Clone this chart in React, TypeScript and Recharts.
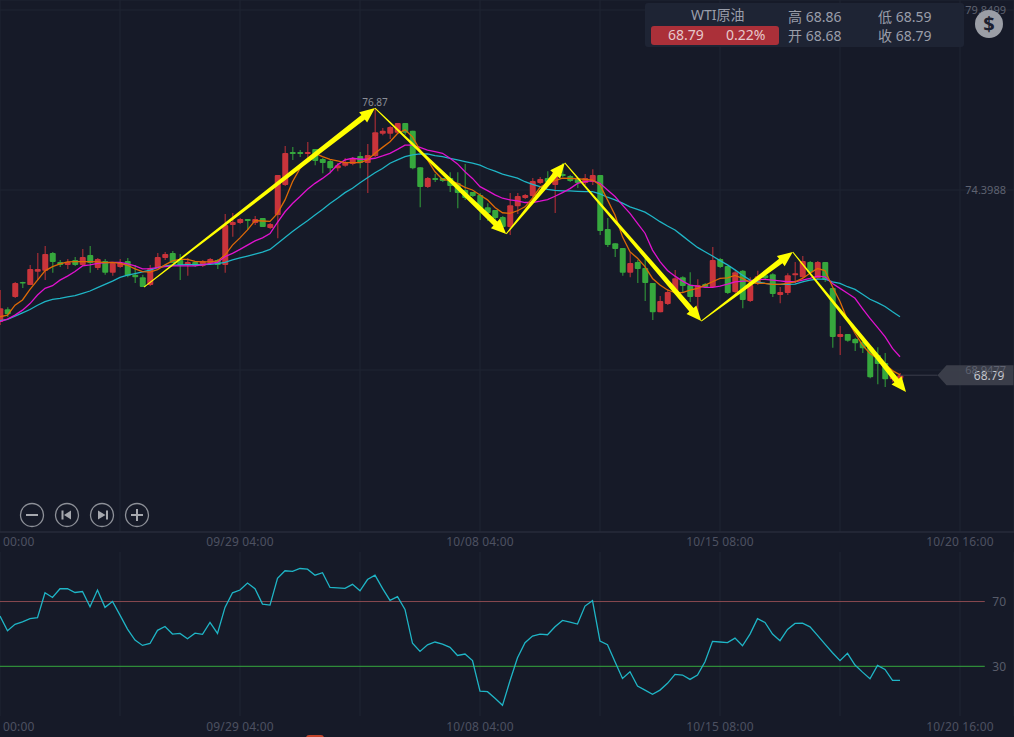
import {
  ComposedChart,
  LineChart,
  Bar,
  Line,
  XAxis,
  YAxis,
  CartesianGrid,
  ReferenceLine,
  ReferenceDot,
} from "recharts";

document.body.style.margin = "0";
document.body.style.background = "#161a28";

const opens = [
  70.40, 70.79, 71.16, 71.61, 71.52, 71.92, 71.95, 72.49, 72.22, 72.13,
  72.28, 72.13, 72.43, 72.04, 72.25, 71.89, 72.07, 72.25, 71.83, 71.76,
  71.52, 72.04, 72.34, 72.49, 72.28, 72.13, 72.22, 72.10, 72.19, 72.28,
  72.13, 73.34, 73.40, 73.52, 73.40, 73.55, 73.25, 73.64, 74.55, 75.55,
  75.55, 75.49, 75.64, 75.34, 75.28, 75.06, 75.13, 75.19, 75.43, 75.22,
  75.43, 76.10, 76.10, 76.13, 76.43, 76.19, 75.09, 74.49, 74.76, 74.76,
  74.76, 74.61, 74.40, 74.34, 74.25, 73.88, 73.79, 73.58, 73.28, 73.91,
  74.16, 74.22, 74.61, 74.76, 74.55, 74.88, 74.82, 74.73, 74.61, 74.64,
  74.85, 73.22, 72.79, 72.64, 71.89, 72.22, 72.04, 71.58, 70.70, 70.95,
  71.31, 71.76, 71.52, 71.16, 71.55, 71.46, 72.31, 72.10, 71.31, 71.95,
  71.04, 71.55, 71.82, 71.85, 71.22, 71.28, 71.82, 71.76, 72.22, 71.73,
  72.22, 71.43, 69.95, 70.04, 69.89, 69.80, 69.64, 69.40, 69.16, 68.67,
  68.68,
];
const highs = [
  71.37, 70.85, 71.61, 71.62, 72.13, 72.49, 72.70, 72.52, 72.28, 72.31,
  72.37, 72.61, 72.70, 72.34, 72.31, 72.22, 72.31, 72.34, 72.13, 71.83,
  72.13, 72.49, 72.52, 72.55, 72.46, 72.34, 72.25, 72.28, 72.34, 72.31,
  73.67, 73.70, 73.55, 73.52, 73.61, 73.55, 73.40, 74.85, 75.73, 75.70,
  75.61, 75.85, 75.64, 75.37, 75.31, 75.22, 75.37, 75.40, 75.55, 75.79,
  76.87, 76.28, 76.34, 76.43, 76.43, 76.19, 75.09, 74.79, 74.88, 74.76,
  74.94, 74.94, 75.19, 74.34, 74.31, 74.00, 73.79, 73.61, 74.31, 74.31,
  74.28, 74.76, 74.79, 74.97, 75.00, 75.22, 74.85, 74.76, 74.88, 75.03,
  74.85, 73.55, 72.79, 72.64, 72.52, 72.28, 72.34, 71.58, 71.19, 71.40,
  71.98, 71.79, 71.91, 71.70, 71.58, 72.67, 72.34, 72.10, 71.95, 71.98,
  71.76, 71.95, 71.85, 71.88, 71.46, 71.88, 72.22, 72.40, 72.25, 72.25,
  72.22, 71.43, 70.28, 70.04, 69.92, 69.80, 69.64, 69.64, 69.46, 68.85,
  68.86,
];
const lows = [
  70.31, 70.55, 71.13, 71.43, 71.52, 71.67, 71.67, 71.89, 72.07, 72.01,
  72.10, 72.10, 71.89, 71.98, 71.83, 71.80, 72.04, 71.76, 71.58, 71.46,
  71.49, 72.04, 72.28, 72.19, 71.67, 71.80, 72.07, 72.07, 72.13, 72.01,
  71.89, 72.98, 73.37, 73.19, 73.34, 73.28, 73.22, 72.94, 74.52, 75.31,
  75.40, 75.25, 75.15, 74.91, 74.91, 74.97, 75.10, 75.15, 75.06, 74.31,
  75.40, 76.06, 75.94, 76.13, 76.07, 75.03, 73.88, 74.46, 74.64, 74.64,
  74.34, 73.85, 74.10, 74.19, 73.49, 73.46, 73.49, 73.25, 73.04, 73.67,
  74.13, 74.19, 74.58, 74.61, 73.70, 74.79, 74.64, 74.46, 74.55, 74.55,
  73.04, 72.67, 72.37, 71.80, 71.76, 71.58, 71.04, 70.46, 70.70, 70.92,
  71.28, 71.31, 71.01, 70.67, 71.43, 71.43, 72.04, 71.25, 71.28, 70.82,
  71.01, 71.52, 71.67, 71.16, 70.97, 71.22, 71.58, 71.73, 71.88, 71.70,
  71.61, 69.62, 69.40, 69.80, 69.52, 69.46, 68.70, 68.52, 68.43, 68.58,
  68.59,
];
const closes = [
  70.82, 70.64, 71.58, 71.57, 72.01, 72.01, 72.46, 72.22, 72.13, 72.22,
  72.13, 72.37, 72.19, 72.31, 71.89, 72.19, 72.19, 71.80, 71.76, 71.46,
  72.04, 72.37, 72.46, 72.19, 72.13, 72.22, 72.10, 72.25, 72.31, 72.13,
  73.34, 73.43, 73.52, 73.46, 73.52, 73.28, 73.37, 74.85, 75.52, 75.49,
  75.49, 75.55, 75.28, 75.22, 75.06, 75.15, 75.25, 75.37, 75.22, 75.46,
  76.15, 76.19, 76.31, 76.43, 76.13, 75.06, 74.49, 74.76, 74.70, 74.67,
  74.52, 74.31, 74.16, 74.22, 73.79, 73.70, 73.55, 73.28, 73.94, 74.22,
  74.25, 74.67, 74.73, 74.64, 74.94, 74.82, 74.67, 74.61, 74.76, 74.85,
  73.16, 72.73, 72.61, 71.89, 72.19, 72.01, 71.58, 70.70, 71.04, 71.31,
  71.73, 71.49, 71.16, 71.52, 71.46, 72.28, 72.07, 71.28, 71.91, 71.07,
  71.52, 71.79, 71.73, 71.25, 71.31, 71.82, 71.88, 72.25, 71.91, 72.22,
  71.67, 69.95, 70.04, 69.83, 69.76, 69.61, 68.73, 69.13, 68.67, 68.79,
  68.79,
];
const ma5 = [
  70.56, 70.61, 70.91, 71.07, 71.39, 71.67, 71.95, 72.08, 72.16, 72.22,
  72.23, 72.23, 72.23, 72.22, 72.20, 72.21, 72.18, 72.12, 72.01, 71.93,
  71.91, 71.99, 72.13, 72.25, 72.30, 72.30, 72.24, 72.22, 72.22, 72.25,
  72.43, 72.73, 72.95, 73.19, 73.47, 73.46, 73.45, 73.69, 74.10, 74.65,
  75.05, 75.29, 75.51, 75.41, 75.33, 75.28, 75.23, 75.23, 75.23, 75.31,
  75.51, 75.69, 75.86, 76.11, 76.22, 76.01, 75.61, 75.31, 74.95, 74.72,
  74.68, 74.60, 74.48, 74.40, 74.25, 74.10, 73.87, 73.71, 73.69, 73.77,
  73.89, 74.15, 74.48, 74.60, 74.68, 74.76, 74.75, 74.74, 74.72, 74.70,
  74.55, 74.10, 73.64, 72.98, 72.53, 72.33, 72.08, 71.72, 71.52, 71.37,
  71.29, 71.29, 71.37, 71.42, 71.52, 71.62, 71.72, 71.74, 71.81, 71.72,
  71.60, 71.57, 71.57, 71.54, 71.54, 71.57, 71.62, 71.72, 71.88, 72.02,
  71.96, 71.47, 71.02, 70.46, 70.06, 69.70, 69.45, 69.30, 69.12, 68.93,
  68.80,
];
const ma10 = [
  70.41, 70.49, 70.61, 70.76, 70.96, 71.22, 71.42, 71.50, 71.67, 71.79,
  71.93, 72.10, 72.13, 72.18, 72.20, 72.21, 72.21, 72.16, 72.10, 72.01,
  72.02, 72.05, 72.08, 72.10, 72.10, 72.10, 72.10, 72.13, 72.18, 72.21,
  72.38, 72.48, 72.60, 72.73, 72.86, 72.95, 73.08, 73.42, 73.74, 73.99,
  74.20, 74.42, 74.60, 74.75, 74.92, 75.16, 75.31, 75.36, 75.33, 75.33,
  75.36, 75.43, 75.51, 75.63, 75.76, 75.76, 75.69, 75.61, 75.56, 75.51,
  75.36, 75.19, 74.95, 74.75, 74.50, 74.38, 74.25, 74.15, 74.10, 74.07,
  74.02, 74.02, 74.06, 74.11, 74.21, 74.32, 74.44, 74.60, 74.65, 74.68,
  74.60, 74.40, 74.20, 73.94, 73.69, 73.39, 73.09, 72.58, 72.23, 71.96,
  71.79, 71.64, 71.52, 71.49, 71.45, 71.45, 71.49, 71.55, 71.62, 71.64,
  71.65, 71.69, 71.69, 71.67, 71.65, 71.62, 71.62, 71.67, 71.72, 71.79,
  71.77, 71.57, 71.42, 71.27, 71.12, 70.81, 70.51, 70.24, 69.96, 69.60,
  69.35,
];
const ma20 = [
  70.44, 70.48, 70.58, 70.68, 70.78, 70.91, 71.02, 71.09, 71.12, 71.16,
  71.20, 71.27, 71.34, 71.44, 71.54, 71.64, 71.75, 71.82, 71.87, 71.92,
  71.97, 72.05, 72.10, 72.12, 72.13, 72.14, 72.14, 72.14, 72.15, 72.17,
  72.21, 72.28, 72.34, 72.40, 72.46, 72.52, 72.60, 72.78, 72.96, 73.14,
  73.31, 73.47, 73.64, 73.81, 73.99, 74.15, 74.32, 74.45, 74.62, 74.77,
  74.92, 75.05, 75.21, 75.31, 75.41, 75.46, 75.49, 75.49, 75.44, 75.41,
  75.36, 75.31, 75.26, 75.21, 75.15, 75.05, 74.97, 74.88, 74.82, 74.76,
  74.65, 74.57, 74.50, 74.42, 74.39, 74.37, 74.37, 74.36, 74.35, 74.35,
  74.28, 74.18, 74.10, 74.00, 73.89, 73.81, 73.73, 73.59, 73.44, 73.31,
  73.19, 73.01, 72.83, 72.66, 72.53, 72.40, 72.26, 72.13, 71.98, 71.82,
  71.67, 71.62, 71.57, 71.54, 71.54, 71.54, 71.55, 71.62, 71.67, 71.70,
  71.70, 71.62, 71.57, 71.47, 71.39, 71.24, 71.09, 70.99, 70.87, 70.71,
  70.56,
];
const rsi = [
  61.0, 52.0, 55.9, 57.5, 59.4, 60.0, 75.4, 72.5, 77.9, 77.9,
  75.6, 76.2, 66.8, 77.1, 66.4, 70.1, 61.6, 53.0, 46.2, 42.9,
  44.1, 52.2, 54.6, 49.9, 50.3, 47.0, 50.5, 49.7, 57.1, 50.3,
  66.4, 75.4, 77.1, 81.4, 77.9, 68.4, 67.8, 84.3, 89.0, 88.6,
  90.4, 90.0, 86.3, 87.8, 78.7, 78.5, 78.1, 80.6, 76.6, 83.6,
  86.3, 78.1, 70.7, 73.0, 65.1, 44.2, 39.2, 43.3, 45.0, 43.7,
  41.7, 36.7, 37.6, 33.5, 14.7, 14.3, 10.2, 5.9, 21.1, 35.3,
  44.6, 48.7, 49.9, 49.5, 54.4, 58.3, 57.3, 56.1, 67.2, 70.5,
  45.6, 43.3, 32.8, 22.5, 26.6, 17.8, 15.3, 12.7, 15.3, 19.5,
  25.0, 24.6, 21.9, 24.6, 32.8, 45.4, 45.0, 44.6, 47.4, 42.7,
  49.9, 59.4, 57.1, 49.9, 45.8, 52.8, 56.5, 56.7, 54.4, 49.1,
  43.7, 38.4, 33.5, 38.0, 30.8, 26.4, 22.3, 30.6, 28.1, 21.3,
  21.3,
];

const gridTicks = [0, 16, 32, 48, 64, 80, 96, 112, 128];
const labelTicks = [0, 32, 64, 96, 128];
const tickLabels = ["00:00", "09/29 04:00", "10/08 04:00", "10/15 08:00", "10/20 16:00"];
const priceTicks = [68.9477, 74.3988, 79.8499];
const rsiTicks = [30, 70];

// hand drawn zigzag on top of the candles
const arrowIndex = [19.2, 50, 67.5, 75.3, 93.5, 105.7, 120.8];
const arrowPrice = [71.46, 76.88, 73.07, 75.22, 70.43, 72.52, 68.28];

const FONT = '"Noto Sans", "Noto Sans CJK SC", sans-serif';
const BG = "#161a28";
const GRID = "#1f2433";
const RED = "#c9343b";
const GREEN = "#36a83d";
const LAST = closes[closes.length - 1];
const X_DOMAIN: [number, number] = [0, 135.2];

const candles = opens.map((open, i) => ({
  i,
  open,
  high: highs[i],
  low: lows[i],
  close: closes[i],
  range: [lows[i], highs[i]],
  ma5: ma5[i],
  ma10: ma10[i],
  ma20: ma20[i],
}));
const rsiData = rsi.map((value, i) => ({ i, value }));

function Candle(props: any) {
  const { x, y, width, height, payload } = props;
  const h = Math.abs(height);
  const toY = (v: number) => y + ((payload.high - v) / (payload.high - payload.low || 1)) * h;
  const up = payload.close >= payload.open;
  const color = up ? RED : GREEN;
  const top = toY(Math.max(payload.open, payload.close));
  const bottom = toY(Math.min(payload.open, payload.close));
  const cx = x + width / 2;
  return (
    <g>
      <line x1={cx} x2={cx} y1={y} y2={y + h} stroke={up ? "#8e2a33" : "#2b7c35"} strokeWidth={1.4} />
      <rect x={x} y={top} width={width} height={Math.max(bottom - top, 1.5)} rx={1} fill={color} />
    </g>
  );
}

// tapered arrow, thin at the start and thick at the head
function Arrow(props: any) {
  const { x1, y1, x2, y2 } = props;
  const len = Math.hypot(x2 - x1, y2 - y1);
  const ux = (x2 - x1) / len;
  const uy = (y2 - y1) / len;
  const nx = -uy;
  const ny = ux;
  const neckX = x2 - ux * 15;
  const neckY = y2 - uy * 15;
  const pts = [
    [x1 + nx * 0.5, y1 + ny * 0.5],
    [neckX + nx * 2.8, neckY + ny * 2.8],
    [neckX + nx * 6.5, neckY + ny * 6.5],
    [x2, y2],
    [neckX - nx * 6.5, neckY - ny * 6.5],
    [neckX - nx * 2.8, neckY - ny * 2.8],
    [x1 - nx * 0.5, y1 - ny * 0.5],
  ];
  return <polygon points={pts.map((p) => p.join(",")).join(" ")} fill="#ffff00" />;
}

function PriceTag(props: any) {
  const { cx, cy } = props;
  return (
    <g>
      <polygon
        points={`${cx},${cy} ${cx + 9},${cy - 10} ${cx + 76},${cy - 10} ${cx + 76},${cy + 10} ${cx + 9},${cy + 10}`}
        fill="#41444f"
        fillOpacity={0.85}
      />
      <text x={cx + 67} y={cy + 4.5} textAnchor="end" fill="#c6c8ce" fontSize={12} fontFamily={FONT}>
        {LAST.toFixed(2)}
      </text>
    </g>
  );
}

function DateTick(props: any) {
  const { x, y, payload, dy } = props;
  const at = labelTicks.indexOf(payload.value);
  if (at < 0) return null;
  return (
    <text
      x={at === 0 ? 3 : x}
      y={y}
      dy={dy}
      textAnchor={at === 0 ? "start" : "middle"}
      fill="#4d5161"
      fontSize={12}
      letterSpacing={0.15}
      fontFamily={FONT}
    >
      {tickLabels[at]}
    </text>
  );
}

function PriceChart() {
  return (
    <ComposedChart width={1014} height={552} data={candles} margin={{ top: 0, right: 0, bottom: 0, left: 0 }}>
      <CartesianGrid stroke={GRID} />
      <XAxis
        dataKey="i"
        type="number"
        domain={X_DOMAIN}
        ticks={gridTicks}
        interval={0}
        height={20}
        stroke="#2a2f3e"
        tickLine={false}
        tick={<DateTick dy={6} />}
      />
      <YAxis
        orientation="right"
        mirror
        domain={[64.042, 80.153]}
        ticks={priceTicks}
        interval={0}
        axisLine={false}
        tickLine={false}
        tick={{ fill: "#5e6270", fontSize: 11, fontFamily: FONT }}
      />
      <Bar dataKey="range" barSize={6} shape={<Candle />} isAnimationActive={false} />
      <Line dataKey="ma20" stroke="#1fb5c6" strokeWidth={1.3} dot={false} activeDot={false} isAnimationActive={false} />
      <Line dataKey="ma10" stroke="#e012cf" strokeWidth={1.3} dot={false} activeDot={false} isAnimationActive={false} />
      <Line dataKey="ma5" stroke="#dd6a06" strokeWidth={1.3} dot={false} activeDot={false} isAnimationActive={false} />
      <ReferenceLine
        segment={[
          { x: 120, y: LAST },
          { x: 125, y: LAST },
        ]}
        stroke="#3a3e4b"
      />
      <ReferenceDot x={125} y={LAST} r={0} shape={<PriceTag />} />
      {arrowIndex.slice(1).map((x, n) => (
        <ReferenceLine
          key={n}
          segment={[
            { x: arrowIndex[n], y: arrowPrice[n] },
            { x, y: arrowPrice[n + 1] },
          ]}
          shape={<Arrow />}
        />
      ))}
      <ReferenceDot
        x={50}
        y={76.87}
        r={0}
        label={{ value: "76.87", position: "top", offset: 2, fill: "#8b8e97", fontSize: 10, fontFamily: FONT }}
      />
    </ComposedChart>
  );
}

function RsiChart() {
  return (
    <LineChart width={1014} height={185} data={rsiData} margin={{ top: 0, right: 0, bottom: 0, left: 0 }}>
      <CartesianGrid stroke={GRID} horizontal={false} />
      <XAxis
        dataKey="i"
        type="number"
        domain={X_DOMAIN}
        ticks={gridTicks}
        interval={0}
        height={21}
        axisLine={false}
        tickLine={false}
        tick={<DateTick dy={7} />}
      />
      <YAxis
        orientation="right"
        mirror
        domain={[-0.7, 100.6]}
        ticks={rsiTicks}
        interval={0}
        axisLine={false}
        tickLine={false}
        tick={{ fill: "#585c6a", fontSize: 12, fontFamily: FONT }}
      />
      <ReferenceLine
        segment={[
          { x: 0, y: 70 },
          { x: 131.3, y: 70 },
        ]}
        stroke="#8a4a50"
      />
      <ReferenceLine
        segment={[
          { x: 0, y: 30 },
          { x: 131.3, y: 30 },
        ]}
        stroke="#36a83d"
      />
      <Line dataKey="value" stroke="#1fb5c6" strokeWidth={1.3} dot={false} activeDot={false} isAnimationActive={false} />
    </LineChart>
  );
}

function Stat({ left, top, label, value }: { left: number; top: number; label: string; value: string }) {
  return (
    <div style={{ position: "absolute", left, top, color: "#9a9eaa", fontSize: 14, lineHeight: "20px", whiteSpace: "nowrap" }}>
      {label} {value}
    </div>
  );
}

function InfoBox() {
  return (
    <div style={{ position: "absolute", inset: 0, fontFamily: FONT, pointerEvents: "none" }}>
      <div style={{ position: "absolute", left: 645, top: 3, width: 319, height: 44, background: "#1e2434", borderRadius: 3 }} />
      <div style={{ position: "absolute", left: 691, top: 5, color: "#9a9eaa", fontSize: 14, lineHeight: "20px" }}>WTI原油</div>
      <div style={{ position: "absolute", left: 651, top: 26, width: 128, height: 19, background: "#ab3039", borderRadius: 3 }} />
      <div style={{ position: "absolute", left: 668, top: 25, color: "#e6c9cb", fontSize: 14, lineHeight: "20px" }}>68.79</div>
      <div style={{ position: "absolute", left: 726, top: 25, color: "#e6c9cb", fontSize: 14, lineHeight: "20px" }}>0.22%</div>
      <Stat left={788} top={7} label="高" value="68.86" />
      <Stat left={878} top={7} label="低" value="68.59" />
      <Stat left={788} top={26} label="开" value="68.68" />
      <Stat left={878} top={26} label="收" value="68.79" />
      <div
        style={{
          position: "absolute",
          left: 975,
          top: 10,
          width: 28,
          height: 28,
          borderRadius: 14,
          background: "#9b9ea6",
          color: "#1b2030",
          fontSize: 20,
          fontWeight: 700,
          lineHeight: "28px",
          textAlign: "center",
        }}
      >
        $
      </div>
    </div>
  );
}

function Controls() {
  const stroke = "#8d9098";
  const ring = { fill: "none", stroke, strokeWidth: 1.3 };
  return (
    <svg width={150} height={32} style={{ position: "absolute", left: 15, top: 499 }}>
      <circle cx={17} cy={16} r={11.5} {...ring} />
      <rect x={11} y={15} width={12} height={2} fill="#a6a8ae" />
      <circle cx={52} cy={16} r={11.5} {...ring} />
      <rect x={46.5} y={11.5} width={2} height={9} fill="#a6a8ae" />
      <polygon points="56,11.5 56,20.5 49,16" fill="#a6a8ae" />
      <circle cx={87} cy={16} r={11.5} {...ring} />
      <rect x={91} y={11.5} width={2} height={9} fill="#a6a8ae" />
      <polygon points="83,11.5 83,20.5 90.5,16" fill="#a6a8ae" />
      <circle cx={122} cy={16} r={11.5} {...ring} />
      <rect x={116} y={15} width={12} height={2} fill="#a6a8ae" />
      <rect x={121} y={10} width={2} height={12} fill="#a6a8ae" />
    </svg>
  );
}

export default function App() {
  return (
    <div style={{ position: "relative", width: 1014, height: 737, overflow: "hidden", background: BG }}>
      <PriceChart />
      <RsiChart />
      <InfoBox />
      <Controls />
      <div style={{ position: "absolute", left: 306, top: 735, width: 18, height: 6, borderRadius: 9, background: "#c2442b" }} />
    </div>
  );
}
